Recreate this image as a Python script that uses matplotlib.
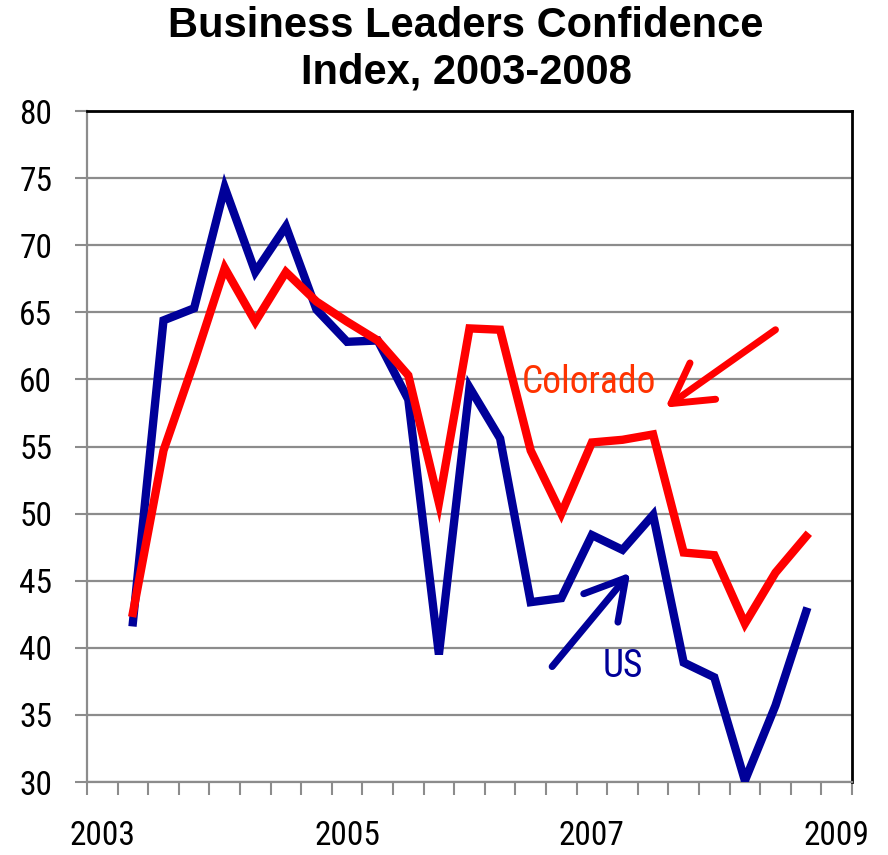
# Business Leaders Confidence Index chart, quarterly data 2003-2008
import matplotlib
matplotlib.use("Agg")
import matplotlib.pyplot as plt
from matplotlib import font_manager as fm

# quarters 2003Q1 .. 2009Q1 (25 categories), data from 2003Q2 to 2008Q4
quarters = [f"{y}Q{q}" for y in range(2003, 2009) for q in range(1, 5)] + ["2009Q1"]
year_labels = ["2003", "2005", "2007", "2009"]
us = [41.9, 64.4, 65.3, 74.3, 68.0, 71.4, 65.2, 62.8, 62.9, 58.5, 39.5, 59.4,
      55.6, 43.4, 43.7, 48.4, 47.3, 49.9, 38.9, 37.8, 30.1, 35.7, 42.7]
colorado = [42.6, 54.7, 61.3, 68.3, 64.3, 68.0, 65.8, 64.3, 62.9, 60.3, 50.8, 63.8,
            63.7, 54.7, 50.0, 55.3, 55.5, 55.9, 47.1, 46.9, 41.8, 45.6, 48.3]


def narrow_font(size):
    # look for an installed narrow/condensed regular face, else plain sans
    prefs = ["liberationsansnarrow-regular", "robotocondensed-regular",
             "dejavusanscondensed.ttf", "opensans_condensed-regular",
             "notosans-condensed.ttf", "notosanscondensed-regular"]
    files = [f.fname for f in fm.fontManager.ttflist]
    for p in prefs:
        for fn in files:
            if p in fn.lower().replace(" ", ""):
                return fm.FontProperties(fname=fn, size=size)
    for fn in files:
        low = fn.lower()
        if ("narrow" in low or "condensed" in low) and "bold" not in low \
                and "italic" not in low and "oblique" not in low and "light" not in low:
            return fm.FontProperties(fname=fn, size=size)
    return fm.FontProperties(family="Liberation Sans", size=size)


tick_font = narrow_font(24)
note_font = narrow_font(27)

fig = plt.figure(figsize=(8.88, 8.55), dpi=100)
ax = fig.add_axes([87/888, 1-782/855, (852-87)/888, (782-111)/855])

xs = [i + 1.5 for i in range(len(us))]  # category centres, first point in 2nd slot
ax.plot(xs, us, color="#000099", lw=6, solid_joinstyle="miter", zorder=3)
ax.plot(xs, colorado, color="#FF0000", lw=6, solid_joinstyle="miter", zorder=4)

ax.set_xlim(0, len(quarters))
ax.set_ylim(30, 80)

# grid + spines
ax.set_yticks(range(30, 81, 5))
ax.yaxis.grid(True, color="#8C8C8C", lw=1.6)
ax.set_axisbelow(True)
for s in ["left", "bottom"]:
    ax.spines[s].set_color("#8C8C8C")
    ax.spines[s].set_linewidth(1.6)
for s in ["top", "right"]:
    ax.spines[s].set_color("black")
    ax.spines[s].set_linewidth(2)

# x: tick marks at category boundaries, labels every 8 quarters
ax.set_xticks(range(0, len(quarters) + 1))
ax.set_xticklabels([])
ax.set_xticks([0.5, 8.5, 16.5, 24.5], minor=True)
ax.set_xticklabels(year_labels, minor=True, fontproperties=tick_font)
ax.tick_params(axis="x", which="major", length=9, width=1.5, color="#8C8C8C", direction="out")
ax.tick_params(axis="x", which="minor", length=0, pad=27)
ax.tick_params(axis="y", length=9, width=1.5, color="#8C8C8C", direction="out", pad=16)
for t in ax.get_yticklabels():
    t.set_fontproperties(tick_font)

# annotations
ax.text(16.4, 59.8, "Colorado", color="#FF3300", fontproperties=note_font,
        ha="center", va="center")
ax.text(17.5, 38.6, "US", color="#000099", fontproperties=note_font,
        ha="center", va="center")
ax.annotate("", xy=(18.9, 57.9), xytext=(22.5, 63.7),
            arrowprops=dict(arrowstyle="->,head_length=1.4,head_width=0.8",
                            color="#FF0000", lw=5, shrinkA=0, shrinkB=0,
                            mutation_scale=20))
ax.annotate("", xy=(17.75, 45.6), xytext=(15.2, 38.6),
            arrowprops=dict(arrowstyle="->,head_length=1.4,head_width=0.8",
                            color="#000099", lw=5, shrinkA=0, shrinkB=0,
                            mutation_scale=20))

fig.text(466/888, 1-49/855, "Business Leaders Confidence\nIndex, 2003-2008",
         ha="center", va="center", fontsize=30, fontweight="bold",
         family="Liberation Sans", linespacing=1.2)

fig.savefig("out.png", dpi=100)
